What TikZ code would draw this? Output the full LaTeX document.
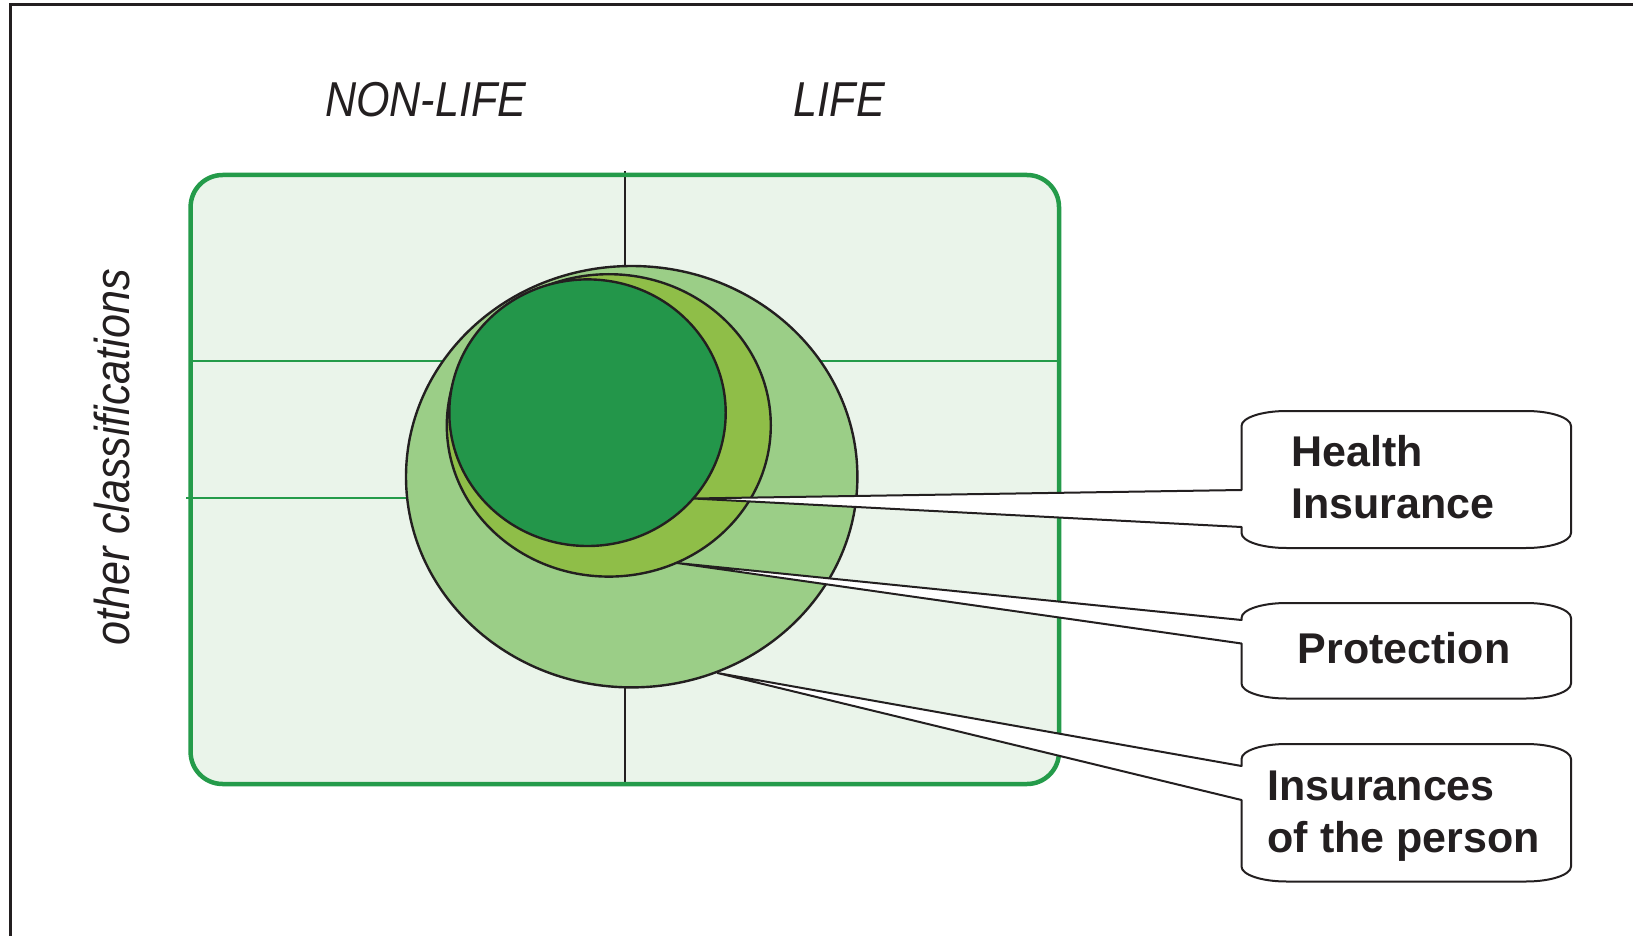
\documentclass[tikz,border=0pt]{standalone}
\usepackage{fontspec}
\setmainfont{Liberation Sans}
\newfontfamily\hdrfont[FakeStretch=0.88]{Liberation Sans Italic}
\newfontfamily\lblfont{Liberation Sans Bold}
\definecolor{inkline}{HTML}{231F20}
\definecolor{paneFill}{HTML}{EAF4EA}
\definecolor{paneEdge}{HTML}{249B4A}
\definecolor{outerSet}{HTML}{9BCE87}
\definecolor{midSet}{HTML}{8FBE48}
\definecolor{innerSet}{HTML}{23964A}

% callout box geometry (one pixel = 0.5pt, y grows downwards)
\newcommand\cL{1241.5}
\newcommand\cR{1571}
\newcommand\crx{45}
\newcommand\cry{15}
% #1 top, #2 bottom, #3 upper wedge foot, #4 lower wedge foot, #5 tip coordinate
\newcommand\calloutshape[5]{%
  \draw[callout] (\cL,#3) -- (\cL,{#1+\cry})
    arc[start angle=180,end angle=270,x radius=\crx,y radius=\cry]
    -- ({\cR-\crx},#1)
    arc[start angle=270,end angle=360,x radius=\crx,y radius=\cry]
    -- (\cR,{#2-\cry})
    arc[start angle=0,end angle=90,x radius=\crx,y radius=\cry]
    -- ({\cL+\crx},#2)
    arc[start angle=90,end angle=180,x radius=\crx,y radius=\cry]
    -- (\cL,#4) -- (#5) -- cycle;}

\begin{document}
\begin{tikzpicture}[x=0.5pt,y=-0.5pt,
  frameline/.style={draw=inkline,line width=1.5pt},
  gridline/.style={draw=paneEdge,line width=1.25pt},
  axisline/.style={draw=inkline,line width=1pt},
  setshape/.style={draw=inkline,line width=1.2pt},
  callout/.style={draw=inkline,fill=white,line width=1pt,line join=round},
  header/.style={font=\hdrfont\fontsize{24.5}{29}\selectfont,text=inkline,inner sep=0pt},
  label/.style={font=\lblfont\fontsize{21.5}{26}\selectfont,text=inkline,inner sep=0pt,anchor=base west}]
\useasboundingbox (0,0) rectangle (1633,936);
\fill[white] (0,0) rectangle (1633,936);

% outer frame
\draw[frameline] (10.5,936) -- (10.5,5) -- (1633,5);

% classification panel
\fill[paneFill,rounded corners=16pt] (190.6,175) rectangle (1059,784);
\draw[gridline] (190.6,361) -- (1059,361);
\draw[gridline] (186,498) -- (1059,498);
\draw[axisline] (625,171.5) -- (625,784);
\draw[draw=paneEdge,line width=2.25pt,rounded corners=16pt] (190.6,175) rectangle (1059,784);

% nested sets
\draw[setshape,fill=outerSet] (631.7,476.7) ellipse [x radius=225.7,y radius=210.7];
\draw[setshape,fill=midSet] (608.8,425.4) ellipse [x radius=162,y radius=151.2];
\draw[setshape,fill=innerSet] (587.5,412.7) ellipse [x radius=138.2,y radius=133.3];

% callout tips
\coordinate (tipH) at (693,498.5);
\coordinate (tipP) at (677,563);
\coordinate (tipI) at (717.5,673);

\calloutshape{411}{548}{490}{527}{tipH}
\calloutshape{603}{698.5}{620}{643.5}{tipP}
\calloutshape{744}{881.5}{766}{800}{tipI}

% texts
\node[header,anchor=base] (nonlife) at (425.7,117) {NON-LIFE};
\node[header,anchor=base] (life) at (839.5,117) {LIFE};
\node[header,anchor=base,rotate=90] (otherclass) at (129,457) {other classifications};

\node[label] (hl1) at (1291,466.7) {Health};
\node[label] (hl2) at (1291,518.3) {Insurance};
\node[label] (prot) at (1297.3,663.3) {Protection};
\node[label] (ip1) at (1267.3,800) {Insurances};
\node[label] (ip2) at (1267.3,852.5) {of the person};
\end{tikzpicture}
\end{document}
